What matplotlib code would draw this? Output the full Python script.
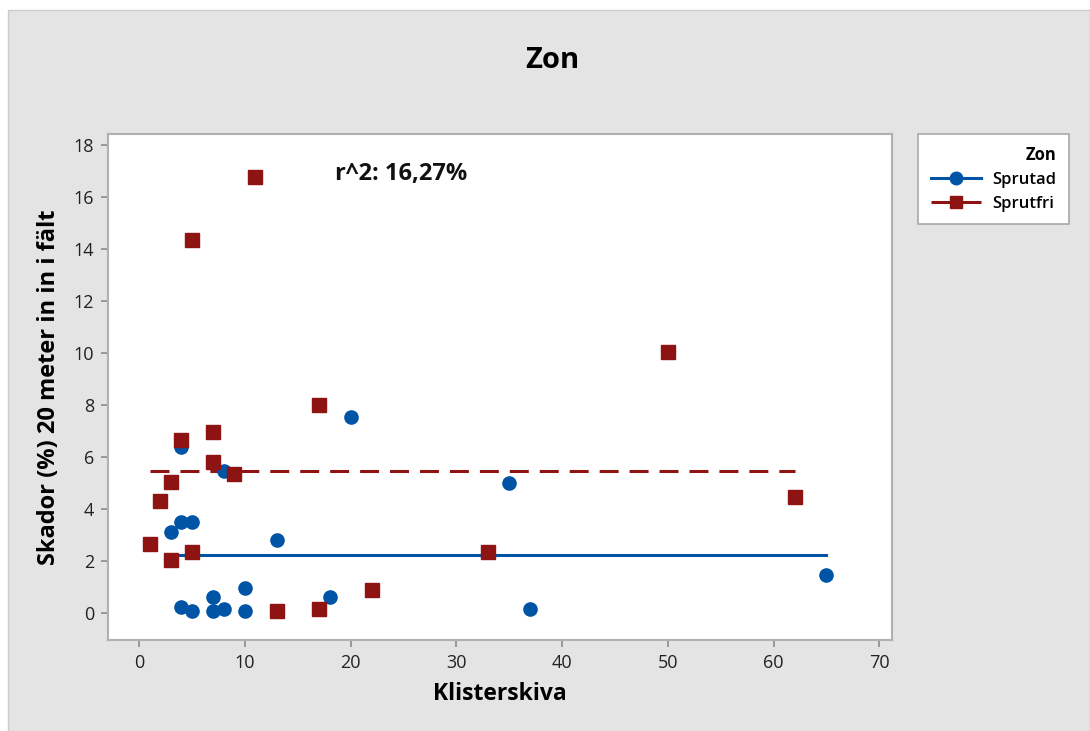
import matplotlib
matplotlib.use("Agg")
import matplotlib.pyplot as plt
from matplotlib.patches import Rectangle

# Sprutad (blue circles)
sprutad_x = [4, 8, 3, 4, 5, 13, 10, 7, 18, 4, 5, 7, 8, 10, 20, 35, 37, 65]
sprutad_y = [6.4, 5.45, 3.1, 3.5, 3.5, 2.8, 0.95, 0.6, 0.6, 0.22, 0.08, 0.08,
             0.15, 0.08, 7.55, 5.0, 0.14, 1.46]
sprutad_fit = 2.23

# Sprutfri (red squares)
sprutfri_x = [4, 7, 7, 9, 3, 2, 1, 3, 5, 17, 13, 17, 22, 5, 11, 50, 62, 33]
sprutfri_y = [6.65, 6.97, 5.8, 5.35, 5.05, 4.32, 2.65, 2.05, 2.36, 8.0, 0.08,
              0.15, 0.88, 14.35, 16.78, 10.03, 4.46, 2.35]
sprutfri_fit = 5.46

xticks = [0, 10, 20, 30, 40, 50, 60, 70]
yticks = [0, 2, 4, 6, 8, 10, 12, 14, 16, 18]

blue = "#0054A6"
red = "#8E1414"
grey_bg = "#E4E4E4"

plt.rcParams["font.family"] = ["Open Sans", "DejaVu Sans"]

W, H = 1090, 731
fig = plt.figure(figsize=(W / 100, H / 100), dpi=100)
fig.patch.set_facecolor("white")
fig.patches.append(Rectangle((8 / W, 0), 1 - 8 / W, 1 - 10 / H,
                             transform=fig.transFigure, facecolor=grey_bg,
                             edgecolor="#cccccc", linewidth=1, zorder=-10))

ax = fig.add_axes([108 / W, 1 - 640 / H, (892 - 108) / W, (640 - 134) / H])
ax.set_facecolor("white")

# fitted levels (drawn first, markers on top)
ax.plot([min(sprutad_x), max(sprutad_x)], [sprutad_fit, sprutad_fit],
        color=blue, lw=2.2, zorder=2)
ax.plot([min(sprutfri_x), max(sprutfri_x)], [sprutfri_fit, sprutfri_fit],
        color=red, lw=2.2, linestyle=(0, (6.2, 3.6)), zorder=2)

ax.plot(sprutad_x, sprutad_y, linestyle="none", marker="o", ms=9.5,
        color=blue, mec=blue, zorder=3)
ax.plot(sprutfri_x, sprutfri_y, linestyle="none", marker="s", ms=9.5,
        color=red, mec=red, zorder=3)

ax.set_xlim(-2.95, 71.2)
ax.set_ylim(-1.04, 18.42)
ax.set_xticks(xticks)
ax.set_yticks(yticks)
ax.tick_params(direction="out", length=5, width=1.2, color="#8c8c8c",
               labelsize=13, labelcolor="#222222", pad=5)
for s in ax.spines.values():
    s.set_color("#b0b0b0")
    s.set_linewidth(1.5)

ax.set_xlabel("Klisterskiva", fontsize=16.5, fontweight="bold", labelpad=7)
ax.set_ylabel("Skador (%) 20 meter in in i fält", fontsize=17,
              fontweight="bold", labelpad=9)

ax.text(18.5, 16.9, "r^2: 16,27%", fontsize=17, fontweight="bold",
        va="center", ha="left", color="#111111")

fig.text(552 / W, 1 - 60 / H, "Zon", fontsize=21, fontweight="bold",
         ha="center", va="center")

# legend
h1, = ax.plot([], [], color=blue, lw=2.2, marker="o", ms=9)
h2, = ax.plot([], [], color=red, lw=2.2, marker="s", ms=9,
              linestyle=(0, (6.6, 3.4)))
leg = fig.legend([h1, h2], ["Sprutad", "Sprutfri"], title="Zon",
                 loc="upper left", bbox_to_anchor=(918 / W, 1 - 134 / H),
                 borderaxespad=0, fancybox=False, framealpha=1,
                 edgecolor="#a8a8a8", fontsize=12, title_fontsize=12,
                 handlelength=3.0, borderpad=0.75, labelspacing=0.45,
                 handletextpad=0.7, alignment="right")
leg.get_frame().set_linewidth(1.2)
leg.get_title().set_fontweight("bold")
for t in leg.get_texts():
    t.set_fontweight("semibold")

fig.savefig("out.png", dpi=100)
